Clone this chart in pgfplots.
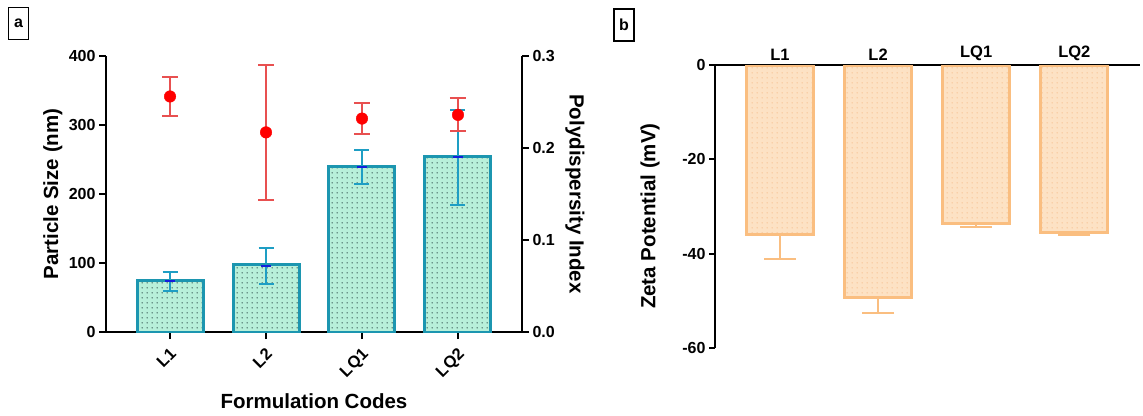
\documentclass[border=0pt]{standalone}
\usepackage{fontspec}
\setmainfont{Liberation Sans}
\usepackage{pgfplots}
\pgfplotsset{compat=1.18}
\usetikzlibrary{patterns.meta}

\definecolor{mint}{RGB}{184,240,218}
\definecolor{tealedge}{RGB}{28,150,176}
\definecolor{tealerr}{RGB}{30,158,196}
\definecolor{meanblue}{RGB}{20,30,220}
\definecolor{mintdot}{RGB}{30,60,60}
\definecolor{pdired}{RGB}{255,0,0}
\definecolor{pdierr}{RGB}{232,80,80}
\definecolor{peach}{RGB}{253,226,196}
\definecolor{orangeedge}{RGB}{250,190,128}
\definecolor{peachdot}{RGB}{246,190,140}

\tikzdeclarepattern{
  name=bardots,
  type=uncolored,
  bounding box={(0,0) and (5pt,5pt)},
  tile size={(5pt,5pt)},
  code={\fill (2.5pt,2.5pt) circle (0.8pt);}
}

\newcommand{\labfont}{\bfseries\fontsize{20.5}{23}\selectfont}

\pgfplotsset{
  panel/.style={
    scale only axis,
    tick style={line width=2pt, black},
    axis line style={line width=2pt, black},
    tick align=outside,
    major tick length=7pt,
    /pgf/number format/assume math mode=true,
    tick label style={font=\bfseries\fontsize{16}{18}\selectfont},
  },
}

\begin{document}
\begin{tikzpicture}
\useasboundingbox (0,0) rectangle (1143pt,-415pt);

% panel labels
\node[draw, line width=1.8pt, minimum width=20pt, minimum height=32pt, inner sep=0pt,
  font=\bfseries\fontsize{16}{18}\selectfont] at (18.5pt,-23.5pt) {a};
\node[draw, line width=1.8pt, minimum width=20pt, minimum height=32pt, inner sep=0pt,
  font=\bfseries\fontsize{16}{18}\selectfont] at (624pt,-25pt) {b};

% (a) particle size
\begin{axis}[panel,
  at={(106pt,-332pt)}, anchor=south west,
  width=416pt, height=276pt,
  xmin=-0.667, xmax=3.667, ymin=0, ymax=400,
  axis x line*=bottom, axis y line*=left,
  xtick={0,1,2,3}, xticklabels={L1,L2,LQ1,LQ2},
  ytick={0,100,200,300,400},
  xticklabel style={xshift=-1pt, yshift=-8pt, rotate=45, anchor=north east, inner sep=0pt,
    font=\bfseries\fontsize{16.5}{18}\selectfont},
  xlabel={Formulation Codes}, ylabel={Particle Size (nm)},
  every axis x label/.style={at={(axis description cs:0.5,-0.25)}, anchor=center, font=\labfont},
  every axis y label/.style={at={(axis description cs:-0.128,0.5)}, anchor=center, rotate=90, font=\labfont},
]
\addplot[ybar, bar width=66pt, draw=tealedge, line width=3pt,
  preaction={fill=mint}, pattern=bardots, pattern color=mintdot]
  coordinates {(0,75) (1,98) (2,240) (3,254)};
\addplot[only marks, mark=-, mark size=5pt, mark options={meanblue, line width=2pt},
  error bars/.cd, y dir=both, y explicit,
  error bar style={tealerr, line width=2pt},
  error mark=|, error mark options={tealerr, line width=2pt, mark size=7.5pt}]
  coordinates {(0,73.5) +- (0,13.5) (1,96) +- (0,26) (2,239) +- (0,25) (3,253) +- (0,69)};
\end{axis}

\begin{axis}[panel,
  at={(106pt,-332pt)}, anchor=south west,
  width=416pt, height=276pt,
  xmin=-0.667, xmax=3.667, ymin=0, ymax=0.3,
  axis x line=none, axis y line*=right,
  ytick={0,0.1,0.2,0.3},
  yticklabel style={/pgf/number format/.cd, fixed, fixed zerofill, precision=1},
  ylabel={Polydispersity Index},
  every axis y label/.style={at={(axis description cs:1.127,0.5)}, anchor=center, rotate=-90, font=\labfont},
]
\addplot[only marks, mark=*, mark size=5.8pt, mark options={pdired, draw=pdired},
  error bars/.cd, y dir=both, y explicit,
  error bar style={pdierr, line width=2pt},
  error mark=|, error mark options={pdierr, line width=2pt, mark size=8pt}]
  coordinates {(0,0.256) +- (0,0.021) (1,0.217) +- (0,0.073) (2,0.232) +- (0,0.017) (3,0.236) +- (0,0.018)};
\end{axis}

% (b) zeta potential
\begin{axis}[panel,
  at={(715pt,-348pt)}, anchor=south west,
  width=425pt, height=283pt,
  xmin=-0.663, xmax=3.67, ymin=-60, ymax=0,
  axis x line*=top, axis y line*=left,
  xtick={0,1,2,3}, xticklabels={L1,L2,LQ1,LQ2},
  ytick={-60,-40,-20,0},
  major tick length=6pt,
  xtick style={yshift=-6pt},
  xticklabel style={font=\bfseries\fontsize{16.5}{19}\selectfont, yshift=-5pt},
  ylabel={Zeta Potential (mV)},
  every axis y label/.style={at={(axis description cs:-0.153,0.466)}, anchor=center, rotate=90, font=\labfont},
]
\addplot[ybar, bar width=67pt, draw=orangeedge, line width=3pt,
  preaction={fill=peach}, pattern=bardots, pattern color=peachdot,
  error bars/.cd, y dir=minus, y explicit,
  error bar style={orangeedge, line width=2pt},
  error mark=|, error mark options={orangeedge, line width=2pt, mark size=16pt}]
  coordinates {(0,-36) +- (0,5.1) (1,-49.2) +- (0,3.4) (2,-33.5) +- (0,0.8) (3,-35.5) +- (0,0.5)};
\end{axis}
\end{tikzpicture}
\end{document}
